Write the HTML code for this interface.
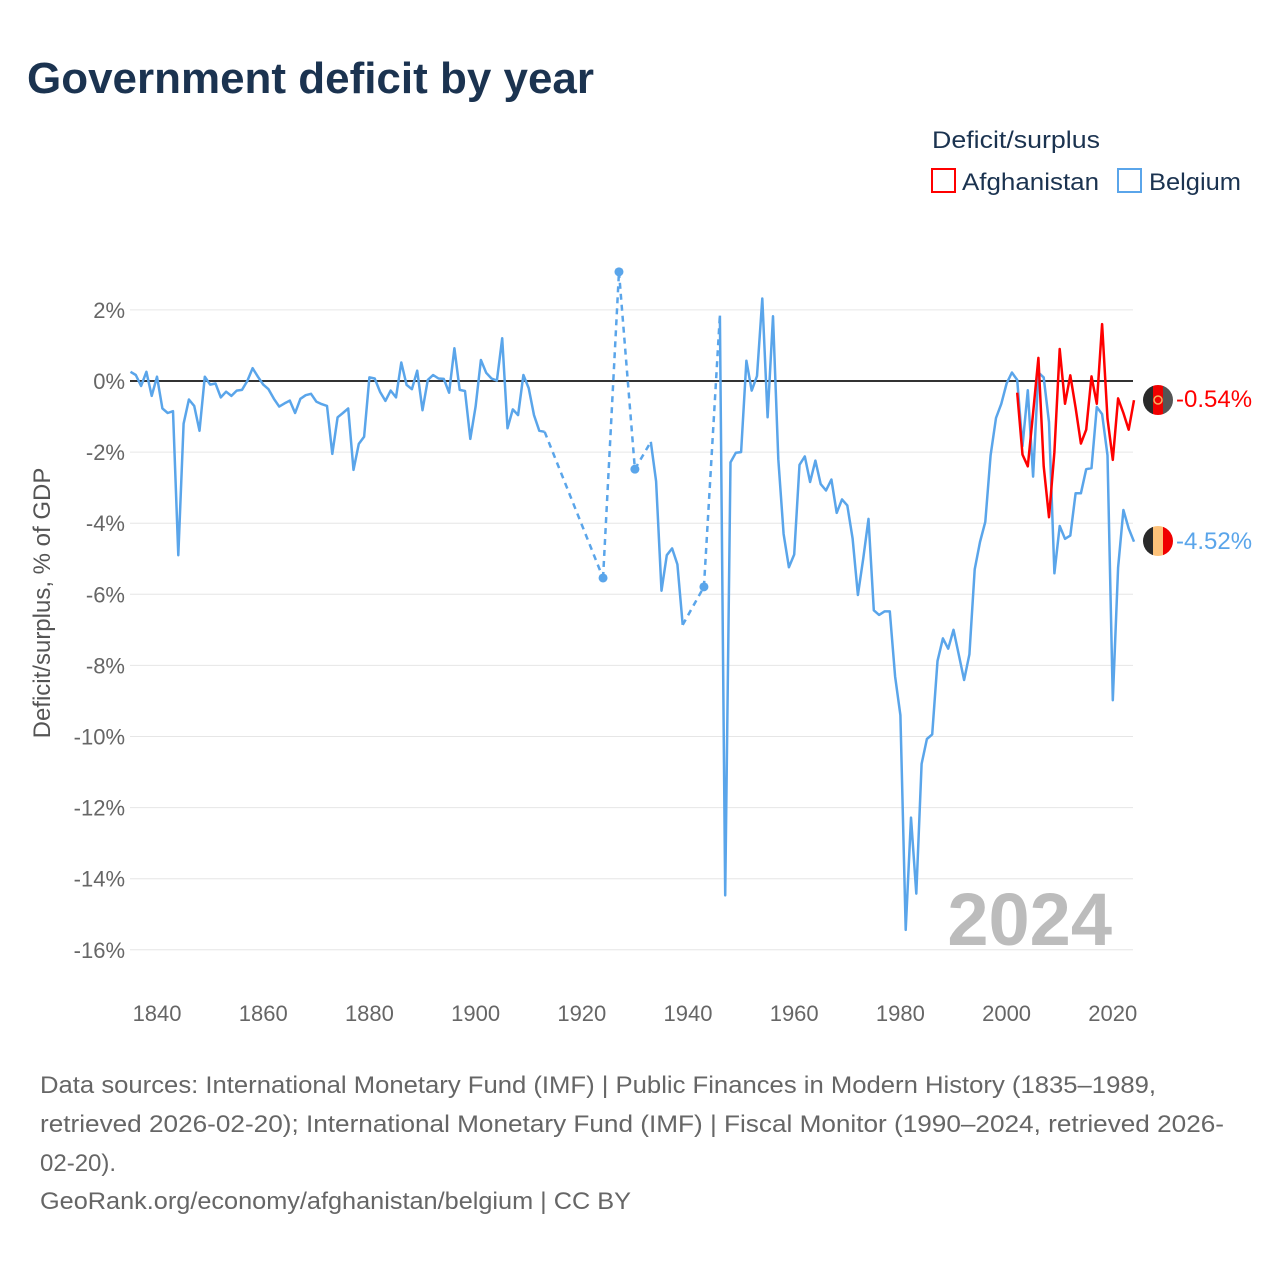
<!DOCTYPE html>
<html><head><meta charset="utf-8"><style>
html,body{margin:0;padding:0;background:#fff;}
svg{display:block;font-family:"Liberation Sans",sans-serif;}
</style></head><body>
<svg id="chart" width="1280" height="1280" viewBox="0 0 1280 1280" xmlns="http://www.w3.org/2000/svg">
<text x="27" y="93" font-size="44" font-weight="bold" fill="#1b3350" textLength="567" lengthAdjust="spacingAndGlyphs">Government deficit by year</text>
<g>
<text x="932" y="148" font-size="24" fill="#1b3350" textLength="168" lengthAdjust="spacingAndGlyphs">Deficit/surplus</text>
<g><rect x="932" y="169" width="23" height="23" fill="none" stroke="#ff0000" stroke-width="2"/><text x="962" y="190" font-size="24" fill="#1b3350" textLength="137" lengthAdjust="spacingAndGlyphs">Afghanistan</text></g>
<g><rect x="1118" y="169" width="23" height="23" fill="none" stroke="#5aa5ea" stroke-width="2"/><text x="1149" y="190" font-size="24" fill="#1b3350" textLength="92" lengthAdjust="spacingAndGlyphs">Belgium</text></g>
</g>
<g id="grid"></g>
<g id="yaxis"></g>
<g id="xaxis"></g>
<text transform="translate(50,603) rotate(-90)" text-anchor="middle" font-size="24" fill="#555">Deficit/surplus, % of GDP</text>
<text x="1112" y="945" text-anchor="end" font-size="74" font-weight="bold" fill="#bcbcbc">2024</text>
<g id="series"></g>
<defs>
<clipPath id="c1"><circle cx="1158" cy="400" r="15"/></clipPath>
<clipPath id="c2"><circle cx="1158" cy="541" r="15"/></clipPath>
</defs>
<g clip-path="url(#c1)">
<rect x="1143" y="385" width="10" height="30" fill="#2a2a2a"/><rect x="1153" y="385" width="10" height="30" fill="#f00000"/><rect x="1163" y="385" width="10" height="30" fill="#555"/>
<circle cx="1158" cy="400" r="4" fill="none" stroke="#f5b060" stroke-width="1.5"/>
</g>
<g clip-path="url(#c2)">
<rect x="1143" y="526" width="10" height="30" fill="#2a2a2a"/><rect x="1153" y="526" width="10" height="30" fill="#fdc27a"/><rect x="1163" y="526" width="10" height="30" fill="#f00000"/>
</g>
<text x="1176" y="407" font-size="24" fill="#ff0000">-0.54%</text>
<text x="1176" y="549" font-size="24" fill="#5aa5ea">-4.52%</text>
<g font-size="24" fill="#666">
<text x="40" y="1093" textLength="1116" lengthAdjust="spacingAndGlyphs">Data sources: International Monetary Fund (IMF) | Public Finances in Modern History (1835–1989,</text>
<text x="40" y="1132" textLength="1184" lengthAdjust="spacingAndGlyphs">retrieved 2026-02-20); International Monetary Fund (IMF) | Fiscal Monitor (1990–2024, retrieved 2026-</text>
<text x="40" y="1171">02-20).</text>
<text x="40" y="1209" textLength="591" lengthAdjust="spacingAndGlyphs">GeoRank.org/economy/afghanistan/belgium | CC BY</text>
</g>
</svg>
<script>
const yTicks=[2,0,-2,-4,-6,-8,-10,-12,-14,-16];
const xTicks=[1840,1860,1880,1900,1920,1940,1960,1980,2000,2020];
const belgiumYears=[1835,1836,1837,1838,1839,1840,1841,1842,1843,1844,1845,1846,1847,1848,1849,1850,1851,1852,1853,1854,1855,1856,1857,1858,1859,1860,1861,1862,1863,1864,1865,1866,1867,1868,1869,1870,1871,1872,1873,1874,1875,1876,1877,1878,1879,1880,1881,1882,1883,1884,1885,1886,1887,1888,1889,1890,1891,1892,1893,1894,1895,1896,1897,1898,1899,1900,1901,1902,1903,1904,1905,1906,1907,1908,1909,1910,1911,1912,1913,1924,1927,1930,1933,1934,1935,1936,1937,1938,1939,1943,1946,1947,1948,1949,1950,1951,1952,1953,1954,1955,1956,1957,1958,1959,1960,1961,1962,1963,1964,1965,1966,1967,1968,1969,1970,1971,1972,1973,1974,1975,1976,1977,1978,1979,1980,1981,1982,1983,1984,1985,1986,1987,1988,1989,1990,1991,1992,1993,1994,1995,1996,1997,1998,1999,2000,2001,2002,2003,2004,2005,2006,2007,2008,2009,2010,2011,2012,2013,2014,2015,2016,2017,2018,2019,2020,2021,2022,2023,2024];
const belgiumValues=[0.26,0.17,-0.14,0.26,-0.42,0.12,-0.77,-0.9,-0.85,-4.9,-1.2,-0.52,-0.7,-1.4,0.12,-0.1,-0.07,-0.46,-0.3,-0.42,-0.27,-0.25,0,0.36,0.12,-0.1,-0.23,-0.5,-0.72,-0.63,-0.55,-0.9,-0.5,-0.4,-0.36,-0.58,-0.65,-0.7,-2.05,-1.02,-0.9,-0.77,-2.5,-1.77,-1.57,0.1,0.07,-0.3,-0.56,-0.27,-0.46,0.52,-0.11,-0.23,0.29,-0.82,0.03,0.17,0.07,0.06,-0.33,0.92,-0.25,-0.28,-1.63,-0.72,0.59,0.23,0.07,0.01,1.2,-1.33,-0.8,-0.96,0.17,-0.2,-0.96,-1.4,-1.43,-5.54,3.07,-2.48,-1.71,-2.82,-5.9,-4.9,-4.71,-5.16,-6.86,-5.79,1.84,-14.47,-2.29,-2.02,-2.0,0.57,-0.27,0.14,2.32,-1.02,1.82,-2.2,-4.3,-5.24,-4.88,-2.36,-2.12,-2.84,-2.24,-2.9,-3.08,-2.77,-3.71,-3.33,-3.5,-4.43,-6.02,-5.0,-3.88,-6.45,-6.58,-6.48,-6.48,-8.31,-9.4,-15.44,-12.28,-14.42,-10.77,-10.07,-9.94,-7.88,-7.24,-7.53,-7.0,-7.7,-8.41,-7.69,-5.3,-4.53,-3.96,-2.09,-1.04,-0.64,-0.07,0.24,0.03,-1.83,-0.26,-2.69,0.24,0.1,-1.16,-5.41,-4.08,-4.44,-4.35,-3.16,-3.16,-2.48,-2.45,-0.73,-0.93,-2.09,-8.98,-5.25,-3.63,-4.15,-4.52];
const afgYears=[2002,2003,2004,2005,2006,2007,2008,2009,2010,2011,2012,2013,2014,2015,2016,2017,2018,2019,2020,2021,2022,2023,2024];
const afgValues=[-0.33,-2.07,-2.4,-0.9,0.65,-2.4,-3.83,-2.0,0.9,-0.64,0.16,-0.75,-1.76,-1.37,0.13,-0.64,1.6,-1.06,-2.22,-0.49,-0.9,-1.37,-0.54];

const NS='http://www.w3.org/2000/svg';
const X0=130.5,X1=1134,Y0=1835,Y1=2024;
const xs=y=>X0+(y-Y0)*(X1-X0)/(Y1-Y0);
const ys=v=>381-v*35.55;
function mk(tag,attrs,parent){const e=document.createElementNS(NS,tag);for(const k in attrs)e.setAttribute(k,attrs[k]);parent.appendChild(e);return e;}
const grid=document.getElementById('grid'),ya=document.getElementById('yaxis'),xa=document.getElementById('xaxis'),ser=document.getElementById('series');
yTicks.forEach(t=>{
  if(t!==0){const l=mk('line',{x1:130,x2:1133,y1:ys(t),y2:ys(t),stroke:'#e6e6e6','stroke-width':1},grid);
  
  }
  const tx=mk('text',{x:125,y:ys(t)+8,'text-anchor':'end','font-size':22,fill:'#666'},ya);
  tx.textContent=t+'%';
  
  
});
xTicks.forEach(t=>{
  const tx=mk('text',{x:xs(t),y:1021,'text-anchor':'middle','font-size':22,fill:'#666'},xa);
  tx.textContent=t;
  
  
});
const zl=mk('line',{x1:130,x2:1133,y1:ys(0),y2:ys(0),stroke:'#333','stroke-width':2},grid);


function drawSeries(years,vals,color,name){
  const g=mk('g',{},ser);
  
  
  let d='';
  for(let i=0;i<years.length;i++){
    const cont=i>0&&years[i]-years[i-1]===1;
    d+=(cont?'L':'M')+xs(years[i]).toFixed(1)+' '+ys(vals[i]).toFixed(1);
    if(i>0&&!cont){
      const dl=mk('line',{x1:xs(years[i-1]),y1:ys(vals[i-1]),x2:xs(years[i]),y2:ys(vals[i]),stroke:color,'stroke-width':2.5,'stroke-dasharray':'6,5'},g);
      
      
    }
    const prevGap=i===0||years[i]-years[i-1]!==1;
    const nextGap=i===years.length-1||years[i+1]-years[i]!==1;
    if(prevGap&&nextGap&&i>0&&i<years.length-1){
      const c=mk('circle',{cx:xs(years[i]),cy:ys(vals[i]),r:4.5,fill:color},g);
      
      
    }
  }
  const p=mk('path',{d:d,fill:'none',stroke:color,'stroke-width':2.5,'stroke-linejoin':'round'},g);
  
  
}
drawSeries(belgiumYears,belgiumValues,'#5aa5ea','belgium-series');
drawSeries(afgYears,afgValues,'#ff0000','afghanistan-series');
</script>
</body></html>
